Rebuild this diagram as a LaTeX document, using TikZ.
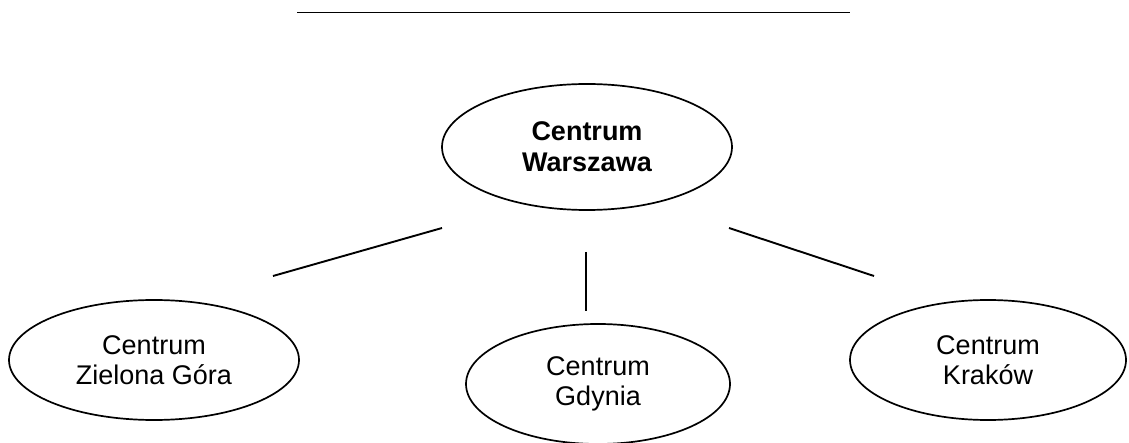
\documentclass[tikz,border=0pt]{standalone}
\usepackage{fontspec}
\setmainfont{Liberation Sans}
\usetikzlibrary{shapes.geometric}
\begin{document}
\begin{tikzpicture}[x=1pt,y=-1pt,
  centre/.style={ellipse,draw,line width=1.7pt,inner sep=0pt,align=center,
    font=\fontsize{27}{30}\selectfont},
  link/.style={line width=1.9pt}]
\useasboundingbox (0,0) rectangle (1129,443);
\draw[link] (297,12.5) coordinate (t1) -- (850,12.5) coordinate (t2);
\node[centre,minimum width=290pt,minimum height=126pt,font=\fontsize{27}{31}\selectfont\bfseries] (war) at (587,147) {Centrum\\Warszawa};
\node[centre,minimum width=290pt,minimum height=120pt] (zg) at (154,360) {Centrum\\Zielona Góra};
\node[centre,minimum width=264pt,minimum height=120pt] (gd) at (598,384) {Centrum\\Gdynia};
\node[centre,minimum width=276pt,minimum height=120pt] (kr) at (988,360) {Centrum\\Kraków};
\coordinate (a1) at (442,228);
\coordinate (a2) at (273,276);
\coordinate (b1) at (586,252);
\coordinate (b2) at (586,311);
\coordinate (c1) at (729,228);
\coordinate (c2) at (874,276);
\draw[link] (a1) -- (a2);
\draw[link] (b1) -- (b2);
\draw[link] (c1) -- (c2);
\end{tikzpicture}
\end{document}
